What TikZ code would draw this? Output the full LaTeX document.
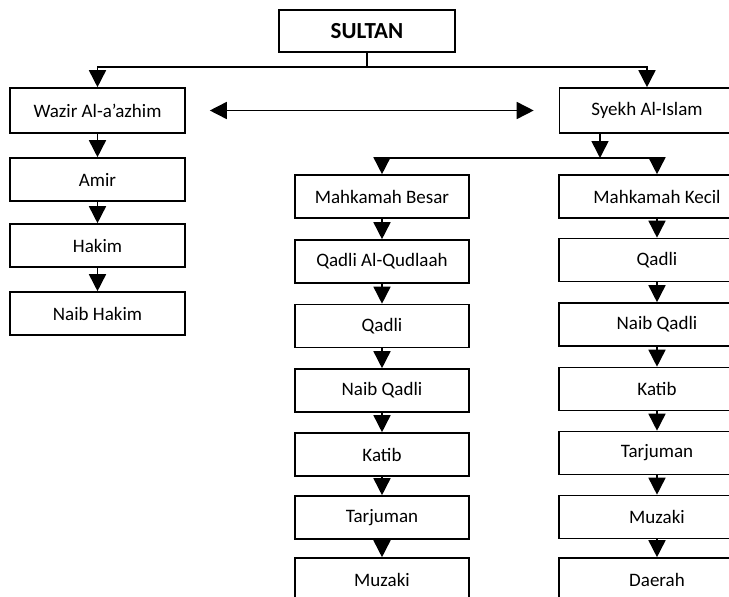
\documentclass[tikz,border=0pt]{standalone}
\usepackage{fontspec}
\setmainfont{Carlito}
\usetikzlibrary{arrows.meta}

\begin{document}
\begin{tikzpicture}[x=1pt, y=-1pt, every node/.style={font=\fontsize{19}{22}\selectfont}]
\tikzset{
  box/.style={draw, line width=1.6pt, minimum width=175pt, minimum height=43pt, inner sep=0pt},
  wbox/.style={box, minimum width=196pt},
  arr/.style={line width=1.6pt, -{Triangle[width=17pt,length=17pt]}},
  dbl/.style={line width=1.6pt, {Triangle[width=17pt,length=17pt]}-{Triangle[width=17pt,length=17pt]}}
}
\useasboundingbox (0,0) rectangle (729,597);
\clip (0,0) rectangle (729,597);

% --- top ---
\node[box, minimum width=176pt, minimum height=42pt, font=\fontsize{23}{26}\selectfont\bfseries] (sultan) at (367,31) {SULTAN};
\node[box, minimum height=45pt] (wazir) at (97.5,110.5) {Wazir Al-a'azhim};
\node[box, minimum height=45pt] (syekh) at (647,110.5) {Syekh Al-Islam};
\coordinate (split) at (367,67);
\draw[line width=1.6pt] (sultan.south) -- (split);
\draw[arr] (split) -| (wazir.north);
\draw[arr] (split) -| (syekh.north);
\draw[dbl] ([xshift=24pt]wazir.east) -- ([xshift=-25pt]syekh.west);

% --- wazir column ---
\node[box] (amir) at (97.5,179.5) {Amir};
\node[box] (hakim) at (97.5,245.5) {Hakim};
\node[box] (naibh) at (97.5,313.5) {Naib Hakim};
\draw[arr] (wazir) -- (amir);
\draw[arr] (amir) -- (hakim);
\draw[arr] (hakim) -- (naibh);

% --- mahkamah besar ---
\node[box, minimum width=174pt] (besar) at (382,196.5) {Mahkamah Besar};
\node[box, minimum width=174pt] (qudlaah) at (382,261.5) {Qadli Al-Qudlaah};
\node[box, minimum width=174pt] (qadlib) at (382,326) {Qadli};
\node[box, minimum width=174pt] (naibb) at (382,390.5) {Naib Qadli};
\node[box, minimum width=174pt] (katibb) at (382,454.5) {Katib};
\node[box, minimum width=174pt] (tarjb) at (382,517.5) {Tarjuman};
\node[box, minimum width=174pt] (muzb) at (382,579.5) {Muzaki};
\draw[arr] (besar) -- (qudlaah);
\draw[arr] (qudlaah) -- (qadlib);
\draw[arr] (qadlib) -- (naibb);
\draw[arr] (naibb) -- (katibb);
\draw[arr] (katibb) -- (tarjb);
\draw[arr] (tarjb) -- (muzb);

% --- mahkamah kecil ---
\node[wbox] (kecil) at (657,196.5) {Mahkamah Kecil};
\node[wbox] (qadlik) at (657,260) {Qadli};
\node[wbox] (naibk) at (657,324.5) {Naib Qadli};
\node[wbox] (katibk) at (657,389) {Katib};
\node[wbox] (tarjk) at (657,453) {Tarjuman};
\node[wbox] (muzk) at (657,517) {Muzaki};
\node[wbox] (daerah) at (657,579.5) {Daerah};
\draw[arr] (kecil) -- (qadlik);
\draw[arr] (qadlik) -- (naibk);
\draw[arr] (naibk) -- (katibk);
\draw[arr] (katibk) -- (tarjk);
\draw[arr] (tarjk) -- (muzk);
\draw[arr] (muzk) -- (daerah);

% --- syekh to courts ---
\coordinate (fork) at (600,158);
\draw[arr] (syekh.south -| fork) -- (fork);
\draw[arr] (fork) -| (besar.north);
\draw[arr] (fork) -| (kecil.north);
\end{tikzpicture}
\end{document}
